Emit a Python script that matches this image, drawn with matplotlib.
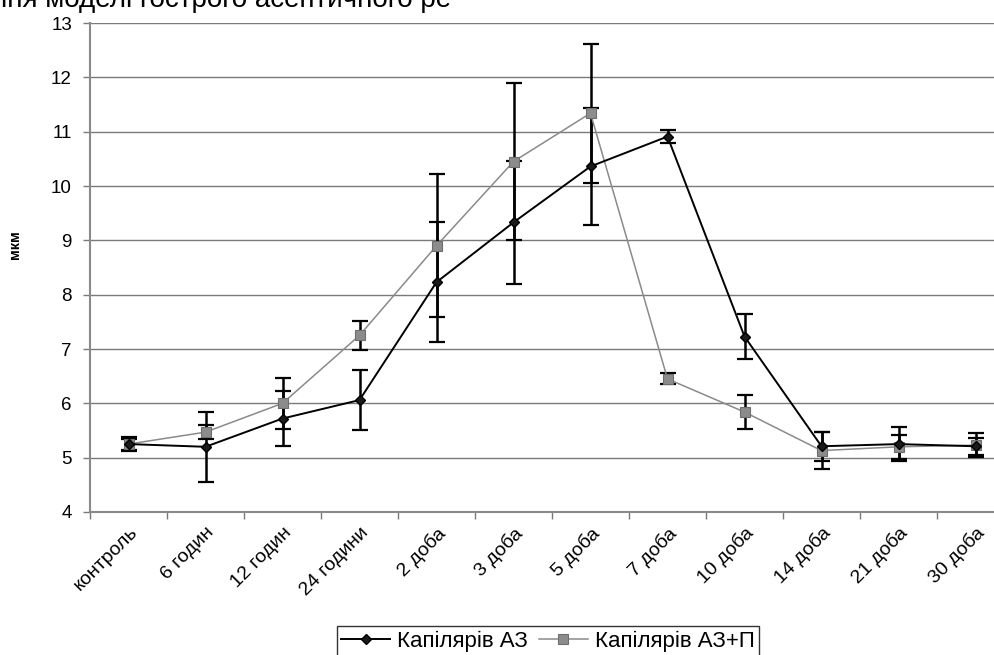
import matplotlib
matplotlib.use("Agg")
import matplotlib.pyplot as plt
import numpy as np

plt.rcParams['font.family'] = ['Liberation Sans', 'DejaVu Sans']

categories = ["контроль", "6 годин", "12 годин", "24 години", "2 доба", "3 доба",
              "5 доба", "7 доба", "10 доба", "14 доба", "21 доба", "30 доба"]

az_values = [5.25, 5.20, 5.72, 6.06, 8.23, 9.33, 10.36, 10.91, 7.23, 5.21, 5.25, 5.21]
az_errors = [0.10, 0.64, 0.50, 0.55, 1.10, 1.13, 1.08, 0.12, 0.41, 0.27, 0.31, 0.16]

azp_values = [5.25, 5.47, 6.00, 7.25, 8.90, 10.45, 11.34, 6.45, 5.84, 5.13, 5.20, 5.23]
azp_errors = [0.13, 0.13, 0.47, 0.26, 1.32, 1.45, 1.28, 0.10, 0.31, 0.34, 0.22, 0.22]

y_ticks = [4, 5, 6, 7, 8, 9, 10, 11, 12, 13]

W, H = 995, 655
fig = plt.figure(figsize=(W / 100, H / 100), dpi=100)
ax = fig.add_axes([90 / W, 1 - 512 / H, 924 / W, (512 - 23) / H])

x = np.arange(len(categories)) + 0.5

ax.set_ylim(4, 13)
ax.set_xlim(0, len(categories))
ax.set_yticks(y_ticks)
ax.yaxis.grid(True, color='#7a7a7a', linewidth=1)
ax.set_axisbelow(True)

# series with error bars (error bars in black for both)
ax.errorbar(x, azp_values, yerr=azp_errors, fmt='none', ecolor='black',
            elinewidth=1.8, capsize=5.5, capthick=1.6, zorder=3)
ax.errorbar(x, az_values, yerr=az_errors, fmt='none', ecolor='black',
            elinewidth=1.8, capsize=5.5, capthick=1.6, zorder=3)

l2, = ax.plot(x, azp_values, color='#8a8a8a', linewidth=1.1, marker='s',
              markersize=7, markerfacecolor='#8c8c8c', markeredgecolor='#6e6e6e',
              markeredgewidth=0.8, zorder=4, label='Капілярів АЗ+П')
l1, = ax.plot(x, az_values, color='black', linewidth=1.4, marker='D',
              markersize=5.5, markerfacecolor='#1a1a1a', markeredgecolor='black',
              zorder=5, label='Капілярів АЗ')

# axes styling
for side in ('top', 'right'):
    ax.spines[side].set_visible(False)
for side in ('left', 'bottom'):
    ax.spines[side].set_color('#8a8a8a')
    ax.spines[side].set_linewidth(1.5)

ax.tick_params(axis='y', length=5, width=1, color='#7a7a7a', labelsize=13.5, pad=8)
ax.set_xticks(np.arange(len(categories) + 1))
ax.set_xticklabels([])
ax.tick_params(axis='x', length=5, width=1, color='#7a7a7a')

for xi, lab in zip(x, categories):
    ax.text(xi, 3.78, lab, rotation=45, ha='right', va='top',
            rotation_mode='anchor', fontsize=14, transform=ax.transData,
            clip_on=False)

fig.text(15 / W, 1 - 245 / H, 'мкм', rotation=90, ha='center', va='center',
         fontsize=10.5, fontweight='bold')

# chart heading, partly above the visible area
fig.text(-8 / W, 1 - 7 / H, 'ння моделі гострого асептичного ре', ha='left',
         va='baseline', fontsize=20)

leg = fig.legend(handles=[l1, l2], loc='upper left', ncol=2,
                 bbox_to_anchor=(337 / W, 1 - 626 / H), bbox_transform=fig.transFigure,
                 frameon=True, fancybox=False, edgecolor='black', fontsize=16,
                 handlelength=2.2, handletextpad=0.3, columnspacing=0.5,
                 borderpad=0.2, borderaxespad=0)
leg.get_frame().set_linewidth(1)

fig.savefig('out.png', dpi=100)
